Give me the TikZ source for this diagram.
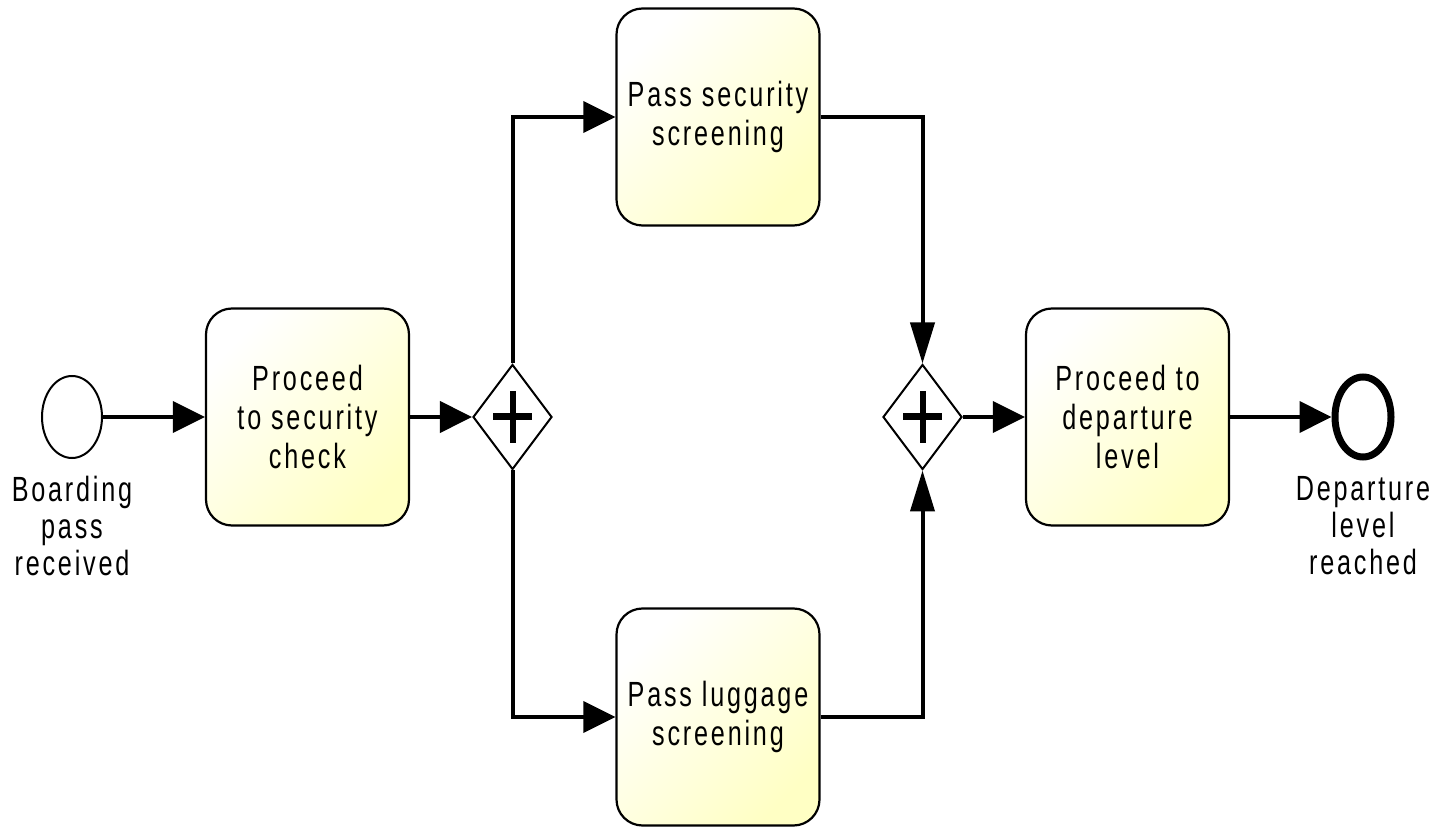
\documentclass[tikz,border=0pt]{standalone}
\usepackage{fontspec}
\setmainfont{Liberation Sans}[FakeStretch=0.72,LetterSpace=8]
\usetikzlibrary{arrows.meta,shapes.geometric}
\definecolor{taskyellow}{RGB}{255,255,196}

\begin{document}
\begin{tikzpicture}[x=0.5pt,y=-0.5pt,
		every node/.style={font=\fontsize{17.5}{18.5}\selectfont,align=center},
		task/.style={draw,line width=1.1pt,rounded corners=13pt,minimum width=101.5pt,minimum height=108.5pt,inner sep=0pt,top color=white,bottom color=taskyellow,shading angle=45,font=\fontsize{17.5}{19.3}\selectfont},
		gateway/.style={draw,diamond,line width=1pt,fill=white,minimum width=39.5pt,minimum height=52.5pt,inner sep=0pt},
		startevent/.style={draw,ellipse,line width=1pt,fill=white,minimum width=30pt,minimum height=41pt,inner sep=0pt},
		endevent/.style={draw,ellipse,line width=3.5pt,fill=white,minimum width=28pt,minimum height=40pt,inner sep=0pt},
		eventlabel/.style={anchor=north,inner sep=0pt},
		flow/.style={line width=2pt,-{Triangle[length=16pt,width=15.5pt]}},
		vflow/.style={line width=2pt,-{Triangle[length=20.5pt,width=12pt]}}]
		\useasboundingbox (0,0) rectangle (1447,828);

		\node[startevent] (start) at (72,417) {};
		\node[eventlabel] (startlabel) at (72,476) {Boarding\\pass\\received};
		\node[task] (tocheck) at (307.5,417) {Proceed\\to security\\check};
		\node[gateway] (split) at (512.5,417) {};
		\node[task] (security) at (718,117) {Pass security\\screening};
		\node[task] (luggage) at (718,717) {Pass luggage\\screening};
		\node[gateway] (join) at (922.5,417) {};
		\node[task] (todeparture) at (1127.5,417) {Proceed to\\departure\\level};
		\node[endevent] (finish) at (1363,417) {};
		\node[eventlabel] (finishlabel) at (1363,476) {Departure\\level\\reached};

		% plus signs of the parallel gateways
		\foreach \g in {split,join} {
			\draw[line width=3.5pt] ([xshift=-9.75pt]\g.center) -- ([xshift=9.75pt]\g.center);
			\draw[line width=3pt] ([yshift=-13pt]\g.center) -- ([yshift=13pt]\g.center);
		}

		\draw[flow] (start) -- (tocheck);
		\draw[flow] (tocheck) -- (split);
		\draw[flow] (split.north) |- (security.west);
		\draw[flow] (split.south) |- (luggage.west);
		\draw[vflow] (security.east) -| (join.north);
		\draw[vflow] (luggage.east) -| (join.south);
		\draw[flow] (join) -- (todeparture);
		\draw[flow] (todeparture) -- (finish);
	\end{tikzpicture}
\end{document}
